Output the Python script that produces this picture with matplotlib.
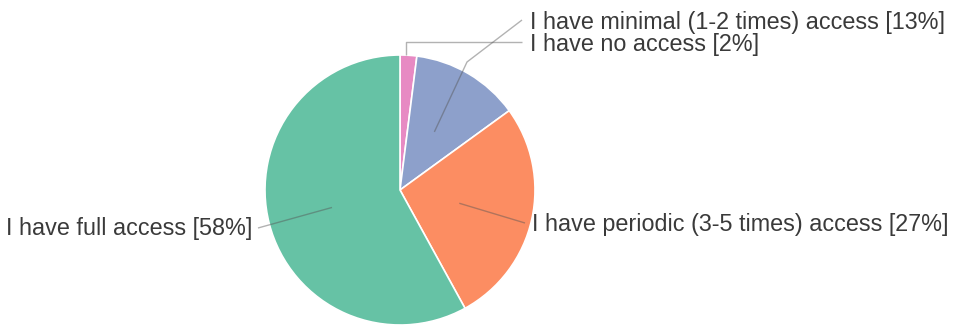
import numpy as np
import matplotlib.pyplot as plt

# ----------------- DATA -----------------

labels = [
    "I have no access",
    "I have minimal (1-2 times) access",
    "I have periodic (3-5 times) access",
    "I have full access",
]
shares = [2, 13, 27, 58]   # percent
colors = ["#e78ac3", "#8da0cb", "#fc8d62", "#66c2a5"]

# ----------------- FIGURE -----------------

W, H = 965, 326
fig = plt.figure(figsize=(W / 100, H / 100), dpi=100)
ax = fig.add_axes([0, 0, 1, 1])

cx, cy, R = 400, H - 190, 135

wedges, _ = ax.pie(shares, colors=colors, startangle=90, counterclock=False,
                   center=(cx, cy), radius=R, frame=True,
                   wedgeprops=dict(edgecolor="white", linewidth=1.2))
ax.set_xlim(0, W)
ax.set_ylim(0, H)
ax.set_aspect("equal")
ax.axis("off")


def anchor(w, r):
    a = np.deg2rad((w.theta1 + w.theta2) / 2)
    return cx + r * R * np.cos(a), cy + r * R * np.sin(a)


# image y is measured from the top
def yy(v):
    return H - v


line_kw = dict(color="#555555", alpha=0.45, linewidth=1, solid_capstyle="butt")
text_kw = dict(fontsize=16.8, color="#3a3a3a", va="center", family="Liberation Sans")

tx = 530
# no access
x0, y0 = anchor(wedges[0], 1.0)
ax.plot([x0 - 2, x0 - 2, tx - 8], [y0, yy(42), yy(42)], **line_kw)
ax.text(tx, yy(44), f"{labels[0]} [{shares[0]}%]", ha="left", **text_kw)
# minimal
x0, y0 = anchor(wedges[1], 0.5)
ax.plot([x0, 467, tx - 8], [y0, yy(62), yy(20)], **line_kw)
ax.text(tx, yy(22), f"{labels[1]} [{shares[1]}%]", ha="left", **text_kw)
# periodic
x0, y0 = anchor(wedges[2], 0.45)
ax.plot([x0, tx - 5], [y0, yy(223)], **line_kw)
ax.text(tx + 2, yy(224), f"{labels[2]} [{shares[2]}%]", ha="left", **text_kw)
# full
x0, y0 = anchor(wedges[3], 0.52)
ax.plot([x0, 258], [y0, yy(228)], **line_kw)
ax.text(252, yy(229), f"{labels[3]} [{shares[3]}%]", ha="right", **text_kw)

fig.savefig("out.png", dpi=100)
